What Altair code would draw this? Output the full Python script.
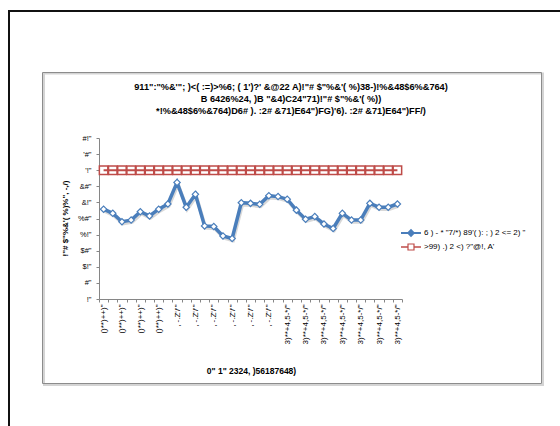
import json
import altair as alt
import pandas as pd

# ---- text ----
title_lines = [
    "911\":\"%&'\"; )<( :=)>%6; ( 1')?' &@22 A)!\"# $\"%&'( %)38-)!%&48$6%&764)",
    "B 6426%24, )B \"&4)C24\"71)!\"# $\"%&'( %))",
    "*!%&48$6%&764)D6# ). :2# &71)E64\")FG)'6). :2# &71)E64\")FF/)",
]
x_title = "0\" 1\" 2324, )56187648)"
y_title = "!\"# $\"%&'( %)%\", -,/)"
series_names = ["6 ) - * \"7/*) 89'( ): ; ) 2 <= 2) \"", ">99) .) 2 <) ?\"@!, A'"]

# labels shown on every other category
x_tick_labels = [
    "()**)++)\"", "()**)++)\"", "()**)++)\"", "()**)++)\"",
    ", -.Z'/'\"", ", -.Z'/'\"", ", -.Z'/'\"", ", -.Z'/'\"", ", -.Z'/'\"", ", -.Z'/'\"",
    "3)**+4,5-*/\"", "3)**+4,5-*/\"", "3)**+4,5-*/\"", "3)**+4,5-*/\"",
    "3)**+4,5-*/\"", "3)**+4,5-*/\"", "3)**+4,5-*/\"",
]
y_tick_values = [0, 5, 10, 15, 20, 25, 30, 35, 40, 45, 50]
y_tick_labels = ["!\"", "#\"", "$!\"", "$#\"", "%!\"", "%#\"", "&!\"", "&#\"", "'!\"", "'#\"", "#!\""]

# ---- series (%) ----
period = list(range(33))
rate = [27.9, 26.6, 24.0, 24.5, 27.1, 25.8, 27.9, 29.5, 36.2, 28.5, 32.5,
        22.7, 22.5, 19.6, 18.8, 29.9, 29.7, 29.4, 32.1, 31.8, 31.0, 27.6,
        24.8, 25.6, 23.3, 21.9, 26.6, 24.5, 24.5, 29.7, 28.5, 28.5, 29.5]
target = [40, 40, 40, 40, 40, 40, 40, 40, 40, 40, 40,
          40, 40, 40, 40, 40, 40, 40, 40, 40, 40, 40,
          40, 40, 40, 40, 40, 40, 40, 40, 40, 40, 40]

BLUE = "#4A7EBB"
RED = "#BE4B48"
FONT = "Liberation Sans"

df = pd.DataFrame({"period": period, "rate": rate, "target": target})
one = alt.Data(values=[{"k": 0}])

x_label_expr = "datum.value % 2 == 0 ? " + json.dumps(x_tick_labels) + "[datum.value / 2] : ''"
y_label_expr = json.dumps(y_tick_labels) + "[round(datum.value / 5)]"

x_enc = alt.X(
    "period:O",
    scale=alt.Scale(type="band", paddingInner=0, paddingOuter=0),
    axis=alt.Axis(
        title=x_title, titleFontSize=8.5, titleFontWeight="bold", titleFont=FONT,
        titleX=152, titleY=71, titleAlign="center", titleBaseline="middle",
        labelExpr=x_label_expr, labelAngle=270, labelAlign="right", labelBaseline="middle",
        labelFontSize=8, labelFont=FONT, labelColor="black", labelPadding=2,
        labelOverlap=False, tickBand="extent", tickSize=3, tickColor="#868686",
        domainColor="#868686",
    ),
)
y_scale = alt.Scale(domain=[0, 50], nice=False, zero=True)
y_axis = alt.Axis(
    title=y_title, titleFontSize=8, titleFontWeight="bold", titleFont=FONT,
    titleAngle=270, titleX=-34, titleY=80, titleAlign="center", titleBaseline="middle",
    values=y_tick_values, tickCount=11, labelExpr=y_label_expr, labelFontSize=7.5, labelFont=FONT,
    labelColor="black", labelPadding=5, labelOverlap=False, tickSize=3, tickColor="#868686",
    domainColor="#868686", grid=False,
)


def y_enc(field):
    return alt.Y(field, type="quantitative", scale=y_scale, axis=y_axis)


base = alt.Chart(df)

# page frame and chart-area box
outer = alt.Chart(one).mark_rect(fillOpacity=0, stroke="#111111", strokeWidth=2).encode(
    x=alt.value(-90), x2=alt.value(520), y=alt.value(-127), y2=alt.value(330))
box_shadow = alt.Chart(one).mark_rect(fillOpacity=0, stroke="#d4d4d4", strokeWidth=2).encode(
    x=alt.value(-55), x2=alt.value(444), y=alt.value(-64.5), y2=alt.value(247))
box = alt.Chart(one).mark_rect(fillOpacity=0, stroke="#8c8c8c", strokeWidth=1).encode(
    x=alt.value(-56.5), x2=alt.value(442.5), y=alt.value(-65.5), y2=alt.value(245.5))

# chart title, three lines
title = alt.Chart(one).mark_text(
    align="center", baseline="top", fontSize=9.2, fontWeight="bold", font=FONT,
    color="black", lineBreak="\n", lineHeight=12,
).encode(x=alt.value(192), y=alt.value(-55.5), text=alt.value("\n".join(title_lines)))

# target series: white squares with a red line through them
t_points = base.mark_point(shape="square", size=72, filled=True, fill="white",
                           stroke=RED, strokeWidth=1.5, opacity=1).encode(
    x=x_enc, y=y_enc("target"))
t_line = base.mark_line(color=RED, strokeWidth=2).encode(x=x_enc, y=y_enc("target"))

# rate series
r_shadow = base.mark_line(color="#8f8f8f", opacity=0.35, strokeWidth=3.5, xOffset=1, yOffset=2).encode(
    x=x_enc, y=y_enc("rate"))
r_line = base.mark_line(color=BLUE, strokeWidth=3.5).encode(x=x_enc, y=y_enc("rate"))
r_points = base.mark_point(shape="diamond", size=40, filled=True, fill="white",
                           stroke=BLUE, strokeWidth=1.2, opacity=1).encode(
    x=x_enc, y=y_enc("rate"))

# legend
lg = alt.Chart(one)
leg = [
    lg.mark_rule(color=BLUE, strokeWidth=2).encode(x=alt.value(302), x2=alt.value(322), y=alt.value(95)),
    lg.mark_point(shape="diamond", size=30, filled=True, fill=BLUE, stroke=BLUE, opacity=1).encode(
        x=alt.value(312), y=alt.value(95)),
    lg.mark_text(align="left", baseline="middle", fontSize=8, font=FONT, color="black").encode(
        x=alt.value(325), y=alt.value(95), text=alt.value(series_names[0])),
    lg.mark_rule(color=RED, strokeWidth=1.5).encode(x=alt.value(302), x2=alt.value(322), y=alt.value(109)),
    lg.mark_point(shape="square", size=36, filled=True, fill="white", stroke=RED,
                  strokeWidth=1.2, opacity=1).encode(x=alt.value(312), y=alt.value(109)),
    lg.mark_text(align="left", baseline="middle", fontSize=8, font=FONT, color="black").encode(
        x=alt.value(325), y=alt.value(109), text=alt.value(series_names[1])),
]

chart = alt.layer(
    outer, box_shadow, box, title, t_points, t_line, r_shadow, r_line, r_points, *leg
).properties(
    width=303,
    height=161,
    autosize=alt.AutoSizeParams(type="none"),
    padding={"left": 99, "top": 138, "right": 158, "bottom": 127},
    background="white",
).configure_view(stroke=None)

chart.save("out.html", embed_options={"renderer": "svg", "actions": False})
